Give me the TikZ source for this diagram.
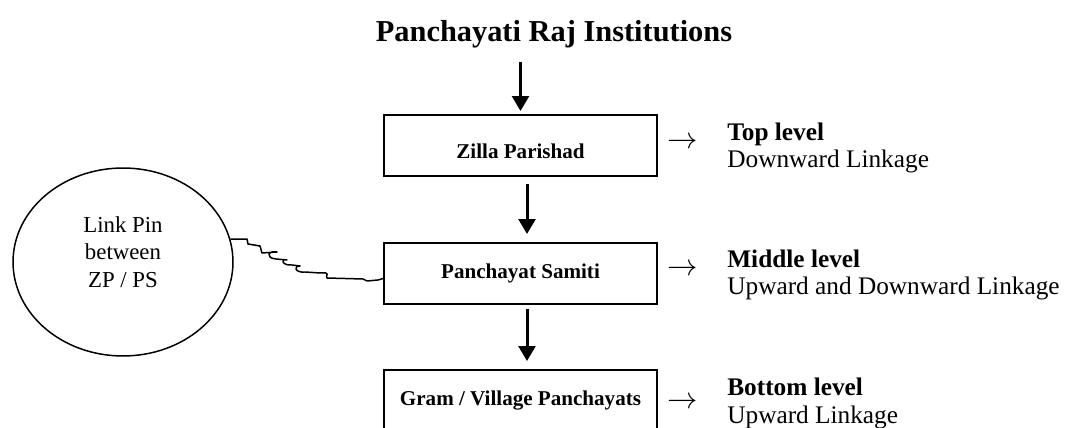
\documentclass[tikz,border=0pt]{standalone}
\usepackage{fontspec}
\setmainfont{Liberation Serif}
\usetikzlibrary{arrows.meta, shapes}

\begin{document}
\begin{tikzpicture}[x=0.02cm, y=-0.02cm,
  level/.style={rectangle, draw, line width=1.1pt, minimum width=5.46cm, minimum height=1.22cm,
    inner sep=0pt, font=\fontsize{12}{14}\selectfont\bfseries},
  down/.style={-{Triangle[width=9.5pt, length=8.5pt]}, line width=1.7pt},
  note/.style={align=left, inner sep=0pt, font=\fontsize{14.4}{15.9}\selectfont},
  pointer/.style={inner sep=0pt, font=\fontsize{18}{18}\selectfont}]
\useasboundingbox (0,0) rectangle (1067,428);
\clip (0,0) rectangle (1067,428);

\node[anchor=base, inner sep=0pt, font=\fontsize{17.3}{19}\selectfont\bfseries] (title) at (554,42) {Panchayati Raj Institutions};

\node[level, text height=15pt] (zp) at (520.5,145.5) {Zilla Parishad};
\node[level] (ps) at (520.5,273.5) {Panchayat Samiti};
\node[level] (gp) at (520.5,400.5) {Gram / Village Panchayats};

\node[ellipse, draw, line width=0.85pt, minimum width=4.4cm, minimum height=3.76cm, inner sep=0pt,
  align=center, text depth=11.6pt, font=\fontsize{13}{15.6}\selectfont] (lp) at (123,262) {Link Pin\\between\\ZP / PS};

\node[pointer] (zparrow) at (683,143) {$\rightarrow$};
\node[pointer] (psarrow) at (683,270) {$\rightarrow$};
\node[pointer] (gparrow) at (683,403) {$\rightarrow$};

\node[note, anchor=base west] (zpnote) at (727,168) {\textbf{Top level}\\Downward Linkage};
\node[note, anchor=base west] (psnote) at (727,295) {\textbf{Middle level}\\Upward and Downward Linkage};
\node[note, anchor=base west] (gpnote) at (727,423) {\textbf{Bottom level}\\Upward Linkage};

% levels
\draw[down, shorten <=0.4cm, shorten >=0.06cm] (title.base -| zp.north) -- (zp.north);
\draw[down, shorten <=0.14cm, shorten >=0.16cm] ([xshift=0.13cm]zp.south) -- ([xshift=0.13cm]ps.north);
\draw[down, shorten <=0.08cm, shorten >=0.16cm] ([xshift=0.13cm]ps.south) -- ([xshift=0.13cm]gp.north);

% link pin
\draw[line width=0.85pt, line join=round] (lp.12) -- (247,239) -- (248,244) -- (260,246) -- (262,253) -- (277,252)
  .. controls (268,250) and (265,258) .. (276,259) -- (287,260)
  .. controls (280,258) and (282,266) .. (292,265) -- (300,266)
  .. controls (293,266) and (295,273) .. (305,272) -- (320,273)
  .. controls (333,272) and (324,276) .. (327,278) -- (363,279) -- (367,281) -- (378,280) -- ([yshift=-0.1cm]ps.west);
\end{tikzpicture}
\end{document}
